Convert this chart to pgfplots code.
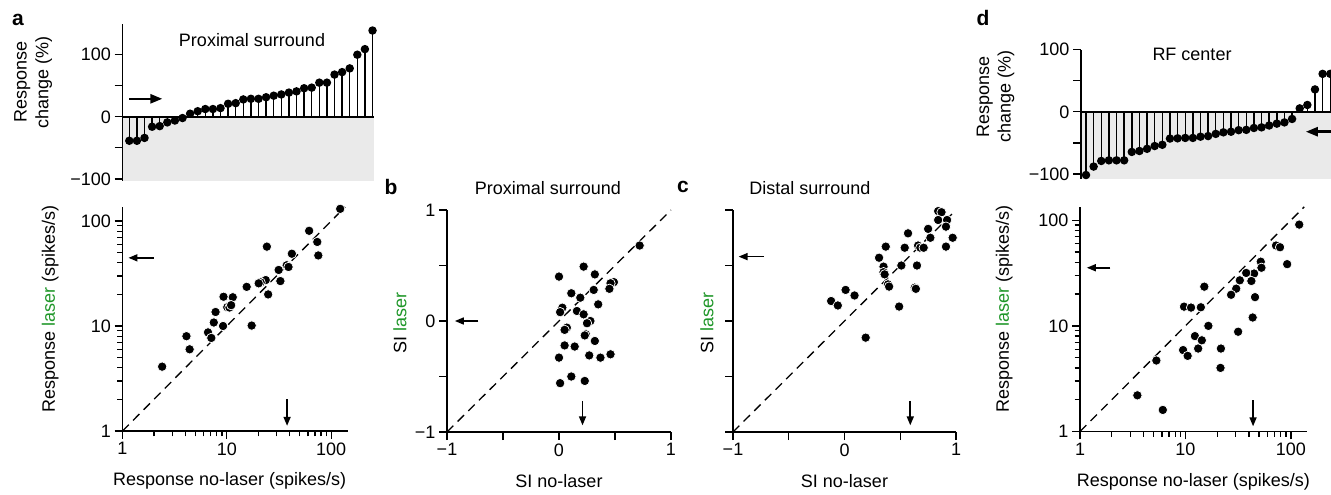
\documentclass[border=0pt]{standalone}
\usepackage{fontspec}
\setmainfont{Liberation Sans}
\usepackage{pgfplots}
\pgfplotsset{compat=1.18}
\usetikzlibrary{arrows.meta}
\definecolor{lasergreen}{RGB}{30,150,40}
\definecolor{shade}{RGB}{234,234,234}

\newcommand{\fs}{\fontsize{18}{21.6}\selectfont}

\tikzset{
  arr/.style={line width=1.6pt, -{Triangle[length=9pt,width=7pt]}},
  bigarr/.style={line width=2.5pt, -{Triangle[length=12pt,width=9pt]}},
}

\pgfplotsset{
  fig/.style={
    scale only axis, anchor=south west, clip=false,
    axis line style={line width=1.6pt},
    every tick/.style={line width=1.3pt, black},
    major tick length=8pt, minor tick length=5.5pt,
    tick align=outside,
    tick label style={font=\fs},
    label style={font=\fs},
  },
  stem/.style={fig, axis x line=none, axis y line*=left, axis on top,
    ytick={-100,-50,0,50,100}, yticklabels={−100,,0,,100},
    ylabel style={align=center, anchor=center}},
  scat/.style={fig, axis lines*=left, ylabel style={anchor=center}},
  dots/.style={only marks, mark=*, mark size=4.7pt,
    mark options={fill=black, draw=white, line width=0.7pt}},
  diag/.style={black, line width=1.3pt, dash pattern=on 9pt off 6pt},
  stems/.style={ycomb, black, line width=1.4pt, mark=*, mark size=3.5pt,
    mark options={fill=black}},
}

\begin{document}
\begin{tikzpicture}
\useasboundingbox (0,0) rectangle (1331pt,-495pt);

% panel letters
\node[font=\bfseries\fontsize{21}{24}\selectfont] at (18pt,-20pt) {a};
\node[font=\bfseries\fontsize{21}{24}\selectfont] at (391pt,-187pt) {b};
\node[font=\bfseries\fontsize{21}{24}\selectfont] at (683pt,-187pt) {c};
\node[font=\bfseries\fontsize{21}{24}\selectfont] at (983pt,-18pt) {d};

% a, top: response change, proximal surround
\begin{axis}[stem, at={(122.5pt,-180.5pt)}, width=251pt, height=156.2pt,
  xmin=0.105, xmax=33.13, ymin=-102.6, ymax=149,
  ylabel={Response\\change (\%)},
  ylabel style={at={(axis description cs:-0.356,0.63)}}]
\addplot[fill=shade, draw=none] coordinates {(0.105,-102.6) (33.13,-102.6) (33.13,0) (0.105,0)} --cycle;
\addplot[black, line width=1.6pt] coordinates {(0.105,0) (33.13,0)};
\addplot[stems] coordinates {
(1,-38.6) (2,-38.6) (3,-34) (4,-16) (5,-15) (6,-9) (7,-6) (8,-2) (9,5) (10,9)
(11,12.5) (12,12.5) (13,14) (14,21) (15,22) (16,28) (17,29) (18,29) (19,31.5) (20,34)
(21,36) (22,39) (23,41) (24,46) (25,47) (26,55) (27,55) (28,68) (29,72) (30,78)
(31,100) (32,109) (33,139)};
\draw[bigarr] (axis cs:1,29) -- (axis cs:5.35,29);
\node[font=\fs] at (axis description cs:0.516,0.9) {Proximal surround};
\end{axis}

% a, bottom: laser vs no-laser
\begin{axis}[scat, at={(122.5pt,-431pt)}, width=225.5pt, height=224pt,
  xmode=log, ymode=log, xmin=1, xmax=145, ymin=1, ymax=136,
  xtick={1,10,100}, xticklabels={1,10,100},
  ytick={1,10,100}, yticklabels={1,10,100},
  minor xtick={2,3,...,9,20,30,...,90}, minor ytick={2,3,...,9,20,30,...,90},
  xlabel={Response no-laser (spikes/s)},
  ylabel={Response \textcolor{lasergreen}{laser} (spikes/s)},
  xlabel style={at={(axis description cs:0.475,-0.222)}, anchor=center},
  ylabel style={at={(axis description cs:-0.32,0.545)}}]
\addplot[diag] coordinates {(1,1) (136,136)};
\addplot[dots] coordinates {
(122,130.6) (61.5,80.7) (73.6,63.2) (75.3,47) (42,48.8) (37.5,37.9) (39,36.5)
(31.4,34.2) (32.6,26.8) (24.2,57) (23.6,27.4) (21.1,26) (20.2,25.5) (24.9,20)
(15.5,23.6) (17.3,10.1) (9.3,19) (11.4,18.8) (10.1,15.1) (10.6,15) (11,15.8)
(7.8,13.6) (7.5,10.8) (9.2,10) (6.6,8.7) (7.1,7.7) (4.1,8) (4.4,6.0) (2.4,4.1)};
\draw[arr] (axis cs:2.0,44.6) -- (axis cs:1.14,44.6);
\draw[arr] (axis cs:37.8,2.0) -- (axis cs:37.8,1.12);
\end{axis}

% b: SI, proximal surround
\begin{axis}[scat, at={(447pt,-432pt)}, width=224pt, height=222pt,
  xmin=-1, xmax=1, ymin=-1, ymax=1,
  xtick={-1,-0.5,0,0.5,1}, xticklabels={−1,,0,,1},
  ytick={-1,-0.5,0,0.5,1}, yticklabels={−1,,0,,1},
  xlabel={SI no-laser}, ylabel={SI \textcolor{lasergreen}{laser}},
  xlabel style={at={(axis description cs:0.5,-0.22)}, anchor=center},
  ylabel style={at={(axis description cs:-0.21,0.49)}}]
\addplot[diag] coordinates {(-1,-1) (1,1)};
\addplot[dots] coordinates {
(0.72,0.68) (0.22,0.49) (0.32,0.42) (0.0,0.40) (0.49,0.35) (0.46,0.34) (0.45,0.29)
(0.31,0.28) (0.11,0.25) (0.19,0.21) (0.35,0.15) (0.03,0.12) (0.01,0.08) (0.16,0.09)
(0.22,0.06) (0.28,0.0) (0.25,-0.02) (0.07,-0.06) (0.05,-0.08) (0.24,-0.12) (0.23,-0.13)
(0.32,-0.18) (0.05,-0.22) (0.14,-0.23) (0.27,-0.31) (0.37,-0.33) (0.46,-0.30)
(0.0,-0.33) (0.11,-0.50) (0.01,-0.56) (0.23,-0.54)};
\draw[arr] (axis cs:-0.72,0) -- (axis cs:-0.93,0);
\draw[arr] (axis cs:0.21,-0.72) -- (axis cs:0.21,-0.94);
\node[font=\fs] at (axis description cs:0.45,1.1) {Proximal surround};
\end{axis}

% c: SI, distal surround
\begin{axis}[scat, at={(733pt,-432pt)}, width=223pt, height=222pt,
  xmin=-1, xmax=1, ymin=-1, ymax=1,
  xtick={-1,-0.5,0,0.5,1}, xticklabels={−1,,0,,1},
  ytick={-1,-0.5,0,0.5,1}, yticklabels={},
  xlabel={SI no-laser}, ylabel={SI \textcolor{lasergreen}{laser}},
  xlabel style={at={(axis description cs:0.5,-0.22)}, anchor=center},
  ylabel style={at={(axis description cs:-0.117,0.49)}}]
\addplot[diag] coordinates {(-1,-1) (1,1)};
\addplot[dots] coordinates {
(0.84,0.99) (0.87,0.98) (0.84,0.91) (0.92,0.91) (0.91,0.85) (0.75,0.83) (0.57,0.79)
(0.77,0.75) (0.97,0.75) (0.37,0.67) (0.54,0.66) (0.66,0.68) (0.68,0.66) (0.71,0.66)
(0.91,0.67) (0.31,0.57) (0.35,0.49) (0.51,0.50) (0.65,0.50) (0.35,0.44) (0.36,0.42)
(0.39,0.33) (0.40,0.31) (0.63,0.30) (0.64,0.29) (0.01,0.28) (0.09,0.23) (-0.12,0.18)
(-0.06,0.14) (0.49,0.13) (0.19,-0.15)};
\draw[arr] (axis cs:-0.72,0.58) -- (axis cs:-0.95,0.58);
\draw[arr] (axis cs:0.59,-0.72) -- (axis cs:0.59,-0.94);
\node[font=\fs] at (axis description cs:0.345,1.1) {Distal surround};
\end{axis}

% d, top: response change, RF center
\begin{axis}[stem, at={(1081pt,-179pt)}, width=250pt, height=129.4pt,
  xmin=0.345, xmax=33.1, ymin=-108, ymax=100,
  ylabel={Response\\change (\%)},
  ylabel style={at={(axis description cs:-0.342,0.634)}}]
\addplot[fill=shade, draw=none] coordinates {(0.345,-108) (33.1,-108) (33.1,0) (0.345,0)} --cycle;
\addplot[black, line width=1.6pt] coordinates {(0.345,0) (33.1,0)};
\addplot[stems] coordinates {
(1,-101.6) (2,-88) (3,-79) (4,-78) (5,-78) (6,-78) (7,-64.5) (8,-63) (9,-59.5) (10,-55)
(11,-53) (12,-43) (13,-42.6) (14,-42) (15,-42) (16,-40) (17,-39) (18,-35.5) (19,-33) (20,-32)
(21,-29.5) (22,-29) (23,-26) (24,-25) (25,-22) (26,-19) (27,-17) (28,-11.5) (29,5.5) (30,11)
(31,36) (32,61) (33,61)};
\draw[bigarr] (axis cs:33.1,-32) -- (axis cs:29.8,-32);
\node[font=\fs] at (axis description cs:0.444,0.96) {RF center};
\end{axis}

% d, bottom: laser vs no-laser, RF center
\begin{axis}[scat, at={(1080pt,-431.5pt)}, width=226.6pt, height=224.7pt,
  xmode=log, ymode=log, xmin=1, xmax=141, ymin=1, ymax=134,
  xtick={1,10,100}, xticklabels={1,10,100},
  ytick={1,10,100}, yticklabels={1,10,100},
  minor xtick={2,3,...,9,20,30,...,90}, minor ytick={2,3,...,9,20,30,...,90},
  xlabel={Response no-laser (spikes/s)},
  ylabel={Response \textcolor{lasergreen}{laser} (spikes/s)},
  xlabel style={at={(axis description cs:0.5,-0.222)}, anchor=center},
  ylabel style={at={(axis description cs:-0.335,0.545)}}]
\addplot[diag] coordinates {(1,1) (134,134)};
\addplot[dots] coordinates {
(120,90.9) (72.3,57.6) (78.9,55.5) (92.2,38.4) (51.8,40.5) (52.6,35.5) (44.8,31.3)
(37.7,31.7) (32.8,27) (42.2,26.6) (30.3,22.5) (27.1,19.7) (45.7,18.7) (43.4,12)
(31.6,8.8) (15.1,23.5) (9.7,15.2) (11.3,14.9) (14.0,15) (16.5,10) (12.3,8.0)
(14.3,7.3) (13.2,6.1) (9.5,5.9) (10.5,5.2) (21.7,6.1) (21.5,4.0) (5.3,4.7)
(3.5,2.2) (6.1,1.6)};
\draw[arr] (axis cs:1.94,35.5) -- (axis cs:1.16,35.5);
\draw[arr] (axis cs:43.8,1.98) -- (axis cs:43.8,1.12);
\end{axis}
\end{tikzpicture}
\end{document}
